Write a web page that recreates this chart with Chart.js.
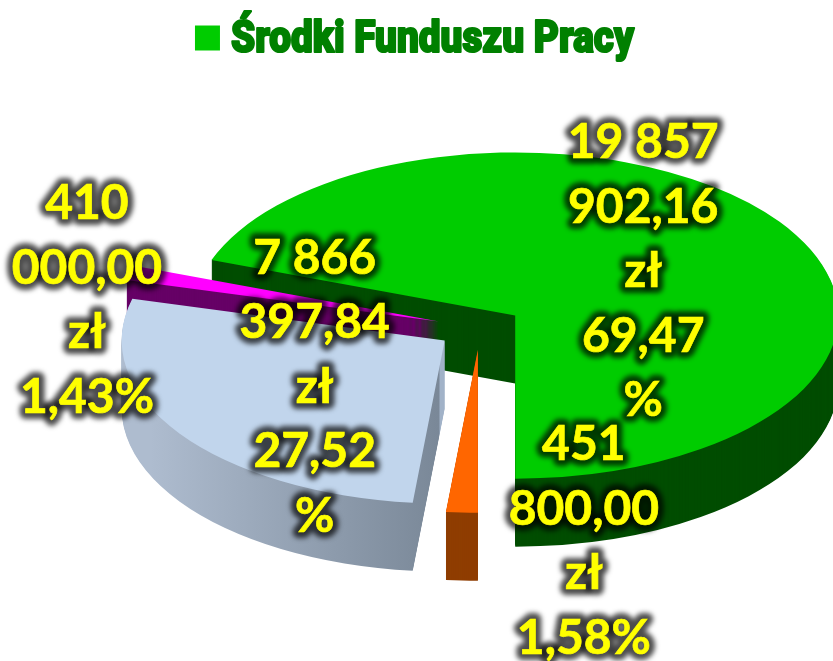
<!DOCTYPE html>
<html><head><meta charset="utf-8">
<style>html,body{margin:0;padding:0;background:#fff;overflow:hidden}#w{width:833px;height:661px}</style>
<script src="https://cdn.jsdelivr.net/npm/chart.js@4"></script></head>
<body><div id="w"><canvas id="c" width="833" height="661"></canvas></div>
<script>
const categories = ['Środki Funduszu Pracy', 'Inne A', 'Inne B', 'Inne C'];
const amounts = [19857902.16, 451800.00, 7866397.84, 410000.00];
const labelLines = [
  ['19 857', '902,16', 'zł', '69,47', '%'],
  ['451', '800,00', 'zł', '1,58%'],
  ['7 866', '397,84', 'zł', '27,52', '%'],
  ['410', '000,00', 'zł', '1,43%']
];
const faceColors = ['#00cc00', '#ff6600', '#c1d5ec', '#ff00ff'];
const sideColors = ['#004d00', '#8f3d00', null, '#660066'];
const labelShift = [[128, -44], [106, 192], [-130, 47], [-352, -21]];
const paintOrder = [0, 3, 2, 1];

const PIE = {cx: 480, cy: 328, radius: 323, tilt: 0.505, depth: 68, explode: 43};
const LABEL_LINE = 64.5, LABEL_FONT = 'bold 48px Lato';
const TITLE = {font: '900 45px Roboto', color: '#008000', width: 403, baseline: 52, gap: 11};

function drawArcVariant(ctx, arc, color, dy) {
  const mid = (arc.startAngle + arc.endAngle) / 2;
  const fake = Object.create(arc);
  fake.options = Object.create(arc.options);
  fake.options.backgroundColor = color;
  fake.options.borderWidth = 0;
  fake.options.offset = 0;
  ctx.save();
  ctx.translate(PIE.cx - arc.x, PIE.cy + dy);
  ctx.scale(1, PIE.tilt);
  ctx.translate(0, -arc.y);
  ctx.translate(Math.cos(mid) * PIE.explode, Math.sin(mid) * PIE.explode);
  arc.constructor.prototype.draw.call(fake, ctx);
  ctx.restore();
}

function drawHaloText(ctx, t, x, y) {
  const far = 3000;
  ctx.save();
  ctx.shadowColor = 'rgba(0,0,0,0.7)';
  ctx.shadowBlur = 5;
  ctx.shadowOffsetX = far;
  ctx.strokeStyle = '#000';
  ctx.lineWidth = 12;
  ctx.lineJoin = 'round';
  ctx.strokeText(t, x - far, y);
  ctx.restore();
  ctx.fillStyle = '#ffff00';
  ctx.strokeStyle = '#ffff00';
  ctx.lineWidth = 0.7;
  ctx.fillText(t, x, y);
  ctx.strokeText(t, x, y);
}

const pie3d = {
  id: 'pie3d',
  beforeDatasetsDraw(chart) {
    const ctx = chart.ctx;
    const arcs = chart.getDatasetMeta(0).data;
    const blueSide = ctx.createLinearGradient(122, 0, 446, 0);
    blueSide.addColorStop(0, '#aebccf');
    blueSide.addColorStop(0.89, '#7a8898');
    blueSide.addColorStop(0.896, '#a1b2c8');
    blueSide.addColorStop(1, '#a1b2c8');
    paintOrder.forEach(i => {
      const side = sideColors[i] || blueSide;
      for (let d = PIE.depth; d >= 1; d--) drawArcVariant(ctx, arcs[i], side, d);
      drawArcVariant(ctx, arcs[i], faceColors[i], 0);
    });
    ctx.save();
    ctx.font = LABEL_FONT;
    ctx.textAlign = 'center';
    ctx.textBaseline = 'middle';
    arcs.forEach((arc, i) => {
      const mid = (arc.startAngle + arc.endAngle) / 2;
      const ax = PIE.cx + Math.cos(mid) * PIE.explode;
      const ay = PIE.cy + Math.sin(mid) * PIE.explode * PIE.tilt;
      const lines = labelLines[i];
      const x = ax + labelShift[i][0];
      const y0 = ay + labelShift[i][1] - (lines.length - 1) * LABEL_LINE / 2;
      lines.forEach((t, k) => drawHaloText(ctx, t, x, y0 + k * LABEL_LINE));
    });
    ctx.restore();
    return false;
  },
  afterDraw(chart) {
    const box = chart.legend.legendHitBoxes[0];
    if (!box) return;
    const ctx = chart.ctx, f = chart.options.plugins.legend.labels;
    ctx.save();
    ctx.font = TITLE.font;
    ctx.textBaseline = 'alphabetic';
    ctx.fillStyle = TITLE.color;
    ctx.strokeStyle = TITLE.color;
    ctx.lineWidth = 2.2;
    ctx.lineJoin = 'round';
    const sx = TITLE.width / ctx.measureText(categories[0]).width;
    ctx.translate(box.left + f.boxWidth + TITLE.gap, TITLE.baseline);
    ctx.scale(sx, 1);
    ctx.fillText(categories[0], 0, 0);
    ctx.strokeText(categories[0], 0, 0);
    ctx.restore();
  }
};

new Chart(document.getElementById('c'), {
  type: 'pie',
  data: {
    labels: categories,
    datasets: [{data: amounts, backgroundColor: faceColors, borderWidth: 0}]
  },
  options: {
    responsive: false,
    animation: false,
    rotation: -70.09,
    radius: PIE.radius,
    layout: {padding: 0},
    plugins: {
      tooltip: {enabled: false},
      title: {display: false},
      legend: {
        display: true, position: 'top',
        labels: {
          filter: item => item.index === 0,
          color: 'rgba(0,0,0,0)', boxWidth: 25, boxHeight: 25, padding: 20,
          font: {family: 'Liberation Sans', size: 36, weight: 'bold'}
        }
      }
    }
  },
  plugins: [pie3d]
});
</script></body></html>
